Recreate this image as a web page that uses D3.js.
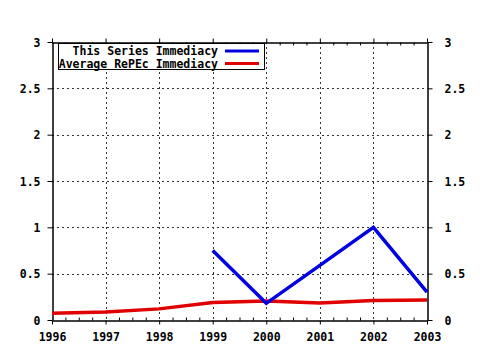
<!DOCTYPE html>
<html><head><meta charset="utf-8">
<script src="https://cdn.jsdelivr.net/npm/d3@7"></script>
<style>
html,body{margin:0;padding:0;background:#fff;}
svg{display:block;}
text{font-family:"DejaVu Sans Mono",monospace;font-weight:bold;font-size:11.5px;fill:#000;}
</style></head>
<body>
<svg id="c" width="480" height="350"></svg>
<script>
const years = [1996, 1997, 1998, 1999, 2000, 2001, 2002, 2003];
const seriesYears = [1999, 2000, 2001, 2002, 2003];
const seriesValues = [0.75, 0.18, 0.59, 1.0, 0.30];
const averageValues = [0.072, 0.086, 0.12, 0.19, 0.205, 0.183, 0.21, 0.215];
const yTicks = [0, 0.5, 1, 1.5, 2, 2.5, 3];
const yTickLabels = ["0", "0.5", "1", "1.5", "2", "2.5", "3"];
const legendLabels = ["This Series Immediacy", "Average RePEc Immediacy"];
const colors = ["#0000e0", "#e00000"];

const svg = d3.select("#c");
const L = 52, R = 427, T = 42, B = 320;
const x = d3.scaleLinear().domain([1996, 2003]).range([L, R]);
const y = d3.scaleLinear().domain([0, 3]).range([B, T]);

// grid
const g = svg.append("g");
g.selectAll("line.vg").data(years.slice(1, -1)).enter().append("line")
  .attr("x1", d => Math.round(x(d)) + 0.5).attr("x2", d => Math.round(x(d)) + 0.5)
  .attr("y1", T).attr("y2", B)
  .attr("stroke", "#333").attr("stroke-width", 1).attr("stroke-dasharray", "2,3");
g.selectAll("line.hg").data(yTicks.slice(1, -1)).enter().append("line")
  .attr("y1", d => Math.round(y(d)) + 0.5).attr("y2", d => Math.round(y(d)) + 0.5)
  .attr("x1", L).attr("x2", R)
  .attr("stroke", "#333").attr("stroke-width", 1).attr("stroke-dasharray", "2,3");

// axes
const fmt = (d) => yTickLabels[yTicks.indexOf(d)];
const xb = svg.append("g").attr("transform", `translate(0,${B + 0.5})`)
  .call(d3.axisBottom(x).tickValues(years).tickFormat(d3.format("d")).tickSize(4).tickSizeOuter(0));
const xt = svg.append("g").attr("transform", `translate(0,${T + 0.5})`)
  .call(d3.axisTop(x).tickValues(years).tickFormat("").tickSize(4).tickSizeOuter(0));
const yl = svg.append("g").attr("transform", `translate(${L + 0.5},0)`)
  .call(d3.axisLeft(y).tickValues(yTicks).tickFormat(fmt).tickSize(5).tickSizeOuter(0));
const yr = svg.append("g").attr("transform", `translate(${R + 0.5},0)`)
  .call(d3.axisRight(y).tickValues(yTicks).tickFormat(fmt).tickSize(5).tickSizeOuter(0));

// minor ticks (quarters) pointing inward
const minor = [];
years.slice(0, -1).forEach(yr0 => { [0.25, 0.5, 0.75].forEach(f => minor.push(yr0 + f)); });
svg.append("g").attr("transform", `translate(0,${B + 0.5})`)
  .call(d3.axisBottom(x).tickValues(minor).tickFormat("").tickSize(-3).tickSizeOuter(0))
  .select(".domain").remove();
svg.append("g").attr("transform", `translate(0,${T + 0.5})`)
  .call(d3.axisTop(x).tickValues(minor).tickFormat("").tickSize(-3).tickSizeOuter(0))
  .select(".domain").remove();

svg.selectAll(".domain").attr("stroke", "#000").attr("stroke-width", 1.5);
svg.selectAll(".tick line").attr("stroke", "#000");
svg.selectAll("text").attr("font-family", null).attr("font-size", null);
xb.selectAll("text").attr("dy", null).attr("y", 20);
yl.selectAll("text").attr("x", -12).attr("dy", "0.35em");
yr.selectAll("text").attr("x", 17).attr("dy", "0.35em");

// lines
const lineAvg = d3.line().x((d, i) => x(years[i])).y(d => y(d));
svg.append("path").datum(averageValues).attr("d", lineAvg)
  .attr("fill", "none").attr("stroke", colors[1]).attr("stroke-width", 3.5);
const lineSer = d3.line().x((d, i) => x(seriesYears[i])).y(d => y(d));
svg.append("path").datum(seriesValues).attr("d", lineSer)
  .attr("fill", "none").attr("stroke", colors[0]).attr("stroke-width", 3.5);

// legend
const lg = svg.append("g");
lg.append("rect").attr("x", 58.5).attr("y", 43.5).attr("width", 206).attr("height", 26)
  .attr("fill", "#fff").attr("stroke", "#000").attr("stroke-width", 1);
legendLabels.forEach((t, i) => {
  const yy = 51 + i * 12.5;
  lg.append("text").attr("x", 218).attr("y", yy).attr("dy", "0.35em")
    .attr("text-anchor", "end").text(t);
  lg.append("line").attr("x1", 225).attr("x2", 259).attr("y1", yy).attr("y2", yy)
    .attr("stroke", colors[i]).attr("stroke-width", 3);
});
</script>
</body></html>
